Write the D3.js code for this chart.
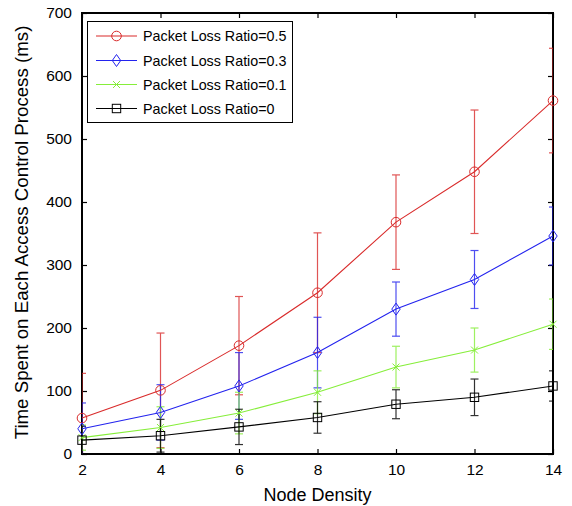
<!DOCTYPE html>
<html>
<head>
<meta charset="utf-8">
<script src="https://cdn.jsdelivr.net/npm/d3@7"></script>
<style>
  html, body { margin: 0; padding: 0; background: #fff; }
  svg { display: block; font-family: "Liberation Sans", Arial, Helvetica, sans-serif; }
</style>
</head>
<body>
<svg id="chart" width="572" height="506"></svg>
<script>
// Node density on the x axis
const nodeDensity = [2, 4, 6, 8, 10, 12, 14];

// Mean time per access control process (ms) and error half-widths, by packet loss ratio
const loss05 = [57, 101, 172, 256, 368, 448, 561];
const loss05Err = [71, 91, 78, 95, 75, 98, 83];
const loss03 = [40, 66, 108, 161, 230, 277, 346];
const loss03Err = [41, 44, 53, 56, 43, 46, 46];
const loss01 = [26, 42, 65, 98, 138, 165, 206];
const loss01Err = [20, 33, 33, 34, 33, 35, 40];
const loss00 = [22, 29, 43, 58, 79, 90, 108];
const loss00Err = [22, 26, 28, 25, 23, 29, 24];

const seriesNames = ["Packet Loss Ratio=0.5", "Packet Loss Ratio=0.3", "Packet Loss Ratio=0.1", "Packet Loss Ratio=0"];
const seriesColors = ["#d92b2b", "#2323ee", "#86ee3a", "#000000"];
const seriesMarkers = ["circle", "diamond", "cross", "square"];

const xTicks = [2, 4, 6, 8, 10, 12, 14];
const yTicks = [0, 100, 200, 300, 400, 500, 600, 700];

const series = [
  { name: seriesNames[0], values: loss05, errors: loss05Err, color: seriesColors[0], marker: seriesMarkers[0] },
  { name: seriesNames[1], values: loss03, errors: loss03Err, color: seriesColors[1], marker: seriesMarkers[1] },
  { name: seriesNames[2], values: loss01, errors: loss01Err, color: seriesColors[2], marker: seriesMarkers[2] },
  { name: seriesNames[3], values: loss00, errors: loss00Err, color: seriesColors[3], marker: seriesMarkers[3] }
];

const svg = d3.select("#chart");
const margin = { left: 82, top: 13, right: 19, bottom: 52 };
const W = 572, H = 506;
const pw = W - margin.left - margin.right;
const ph = H - margin.top - margin.bottom;

const x = d3.scaleLinear().domain([2, 14]).range([0, pw]);
const y = d3.scaleLinear().domain([0, 700]).range([ph, 0]);

const g = svg.append("g").attr("transform", `translate(${margin.left},${margin.top})`);

svg.append("defs").append("clipPath").attr("id", "plotClip")
  .append("rect").attr("x", 0).attr("y", 0).attr("width", pw).attr("height", ph);

// Axes: inward ticks on all four sides, labels on bottom and left
const tickLen = 5;
const bottomAxis = d3.axisBottom(x).tickValues(xTicks).tickSizeInner(-tickLen).tickSizeOuter(0).tickPadding(10);
const topAxis = d3.axisTop(x).tickValues(xTicks).tickSizeInner(-tickLen).tickSizeOuter(0).tickFormat("");
const leftAxis = d3.axisLeft(y).tickValues(yTicks).tickSizeInner(-tickLen).tickSizeOuter(0).tickPadding(10);
const rightAxis = d3.axisRight(y).tickValues(yTicks).tickSizeInner(-tickLen).tickSizeOuter(0).tickFormat("");

function styleAxis(sel) {
  sel.select(".domain").remove();
  sel.selectAll(".tick line").attr("stroke", "#000").attr("stroke-width", 1.2);
  sel.selectAll(".tick text").attr("fill", "#000").style("font-size", "15.5px")
    .style("font-family", "'Liberation Sans', Arial, sans-serif");
}

g.append("g").attr("transform", `translate(0,${ph})`).call(bottomAxis).call(styleAxis)
  .selectAll(".tick text").attr("dy", "0.72em");
g.append("g").call(topAxis).call(styleAxis);
g.append("g").call(leftAxis).call(styleAxis);
g.append("g").attr("transform", `translate(${pw},0)`).call(rightAxis).call(styleAxis);

// Plot frame
g.append("rect").attr("x", 0).attr("y", 0).attr("width", pw).attr("height", ph)
  .attr("fill", "none").attr("stroke", "#000").attr("stroke-width", 2);

// Error bars (clipped to the plot box)
const capHalf = 4;
const errLayer = g.append("g").attr("clip-path", "url(#plotClip)");
series.forEach(s => {
  const eg = errLayer.append("g").attr("stroke", s.color).attr("stroke-width", 1.2).attr("opacity", 0.8);
  nodeDensity.forEach((d, i) => {
    const cx = x(d);
    const top = y(s.values[i] + s.errors[i]);
    const bot = y(s.values[i] - s.errors[i]);
    eg.append("line").attr("x1", cx).attr("x2", cx).attr("y1", top).attr("y2", bot);
    eg.append("line").attr("x1", cx - capHalf).attr("x2", cx + capHalf).attr("y1", top).attr("y2", top);
    eg.append("line").attr("x1", cx - capHalf).attr("x2", cx + capHalf).attr("y1", bot).attr("y2", bot);
  });
});

// Marker drawing helper
function drawMarker(sel, type, cx, cy, color) {
  if (type === "circle") {
    sel.append("circle").attr("cx", cx).attr("cy", cy).attr("r", 4.8)
      .attr("fill", "none").attr("stroke", color).attr("stroke-width", 1);
  } else if (type === "diamond") {
    sel.append("path").attr("d", `M${cx},${cy - 6}L${cx + 4.2},${cy}L${cx},${cy + 6}L${cx - 4.2},${cy}Z`)
      .attr("fill", "none").attr("stroke", color).attr("stroke-width", 1);
  } else if (type === "square") {
    sel.append("rect").attr("x", cx - 4.2).attr("y", cy - 4.2).attr("width", 8.4).attr("height", 8.4)
      .attr("fill", "none").attr("stroke", color).attr("stroke-width", 1);
  } else if (type === "cross") {
    sel.append("path").attr("d", `M${cx - 3.5},${cy - 3.5}L${cx + 3.5},${cy + 3.5}M${cx - 3.5},${cy + 3.5}L${cx + 3.5},${cy - 3.5}`)
      .attr("fill", "none").attr("stroke", color).attr("stroke-width", 1);
  }
}

// Lines and markers
const line = d3.line().x((d, i) => x(nodeDensity[i])).y(d => y(d));
series.forEach(s => {
  g.append("path").datum(s.values).attr("d", line)
    .attr("fill", "none").attr("stroke", s.color).attr("stroke-width", 1.1);
  const mg = g.append("g");
  s.values.forEach((v, i) => drawMarker(mg, s.marker, x(nodeDensity[i]), y(v), s.color));
});

// Legend
const legend = svg.append("g");
legend.append("rect").attr("x", 87.5).attr("y", 21.5).attr("width", 205).attr("height", 101)
  .attr("fill", "#fff").attr("stroke", "#000").attr("stroke-width", 1);
const rowY = [36, 60.5, 84.5, 108.5];
series.forEach((s, i) => {
  const ry = rowY[i];
  legend.append("line").attr("x1", 96).attr("x2", 137).attr("y1", ry).attr("y2", ry)
    .attr("stroke", s.color).attr("stroke-width", 1.1);
  drawMarker(legend, s.marker, 116.5, ry, s.color);
  legend.append("text").attr("x", 143).attr("y", ry + 5.2).text(s.name)
    .style("font-size", "14.3px").attr("fill", "#000");
});

// Axis titles
svg.append("text").attr("x", margin.left + pw / 2).attr("y", 501).attr("text-anchor", "middle")
  .style("font-size", "18px").attr("fill", "#000").text("Node Density");
svg.append("text").attr("transform", `translate(28,${margin.top + ph / 2 - 1}) rotate(-90)`)
  .attr("text-anchor", "middle").style("font-size", "18.7px").attr("fill", "#000")
  .text("Time Spent on Each Access Control Process (ms)");
</script>
</body>
</html>
